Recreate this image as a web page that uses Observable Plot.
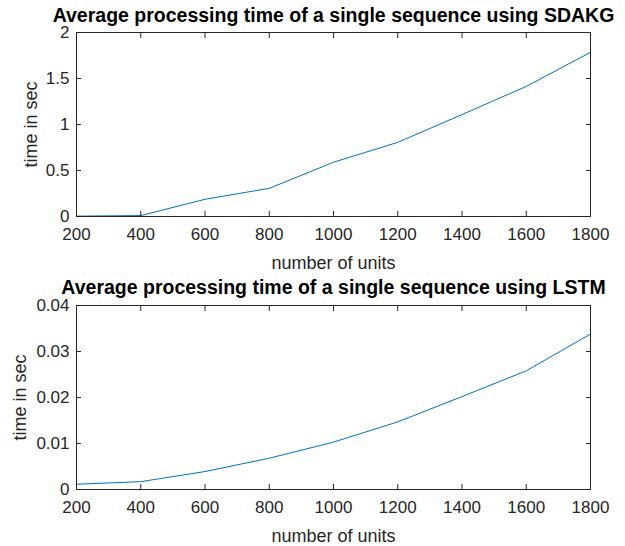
<!DOCTYPE html>
<html>
<head>
<meta charset="utf-8">
<script src="https://cdn.jsdelivr.net/npm/d3@7"></script>
<script src="https://cdn.jsdelivr.net/npm/@observablehq/plot@0.6"></script>
<style>
  body { margin: 0; background: #fff; }
  #chart svg { display: block; }
</style>
</head>
<body>
<div id="chart"></div>
<script>
const units = [200, 400, 600, 800, 1000, 1200, 1400, 1600, 1800];
const sdakgTime = [0.004, 0.01, 0.187, 0.306, 0.59, 0.806, 1.108, 1.414, 1.785];
const lstmTime = [0.00115, 0.0017, 0.0039, 0.0068, 0.0103, 0.0147, 0.0202, 0.0258, 0.0338];
const xTicks = [200, 400, 600, 800, 1000, 1200, 1400, 1600, 1800];
const sdakgTicks = [0, 0.5, 1, 1.5, 2];
const lstmTicks = [0, 0.01, 0.02, 0.03, 0.04];
const titles = [
  "Average processing time of a single sequence using SDAKG",
  "Average processing time of a single sequence using LSTM"
];
const xLabel = "number of units";
const yLabel = "time in sec";

const ink = "#262626";
const font = "Liberation Sans, Arial, sans-serif";

function panel(values, yTicks, yDomain, title, titleY, yLabelDx, yFmt) {
  const data = units.map((u, i) => ({u, t: values[i]}));
  const blank = () => "";
  const mt = 32;
  return Plot.plot({
    width: 625,
    height: 273,
    marginLeft: 76,
    marginRight: 35,
    marginTop: mt,
    marginBottom: 57,
    style: {fontFamily: font, fontSize: "17px", color: ink, background: "#fff"},
    x: {domain: [200, 1800]},
    y: {domain: yDomain},
    marks: [
      Plot.line(data, {x: "u", y: "t", stroke: "#0072BD", strokeWidth: 1}),
      Plot.frame({stroke: ink, strokeWidth: 1}),
      Plot.axisX({ticks: xTicks, tickSize: -5, tickPadding: 16.5, tickFormat: d => String(d), fontSize: 17, fill: ink, stroke: ink, label: null}),
      Plot.axisX({anchor: "top", ticks: xTicks, tickSize: -5, tickFormat: blank, stroke: ink, label: null}),
      Plot.axisY({ticks: yTicks, tickSize: -5, tickPadding: 12, tickFormat: yFmt, fontSize: 17, fill: ink, stroke: ink, label: null}),
      Plot.axisY({anchor: "right", ticks: yTicks, tickSize: -5, tickFormat: blank, stroke: ink, label: null}),
      Plot.text([title], {frameAnchor: "top", dy: -mt + titleY, text: d => d, fontSize: 19.5, fontWeight: "bold", fill: "#000", lineAnchor: "middle"}),
      Plot.text([xLabel], {frameAnchor: "bottom", dy: 46.5, text: d => d, fontSize: 18, fill: ink, lineAnchor: "middle"}),
      Plot.text([yLabel], {frameAnchor: "left", dx: yLabelDx, rotate: -90, text: d => d, fontSize: 18, fill: ink, textAnchor: "middle", lineAnchor: "middle"})
    ]
  });
}

const el = document.getElementById("chart");
el.append(panel(sdakgTime, sdakgTicks, [0, 2], titles[0], 15.5, -45, d => String(d)));
el.append(panel(lstmTime, lstmTicks, [0, 0.04], titles[1], 14.5, -56, d => d === 0 ? "0" : d.toFixed(2)));
</script>
</body>
</html>
